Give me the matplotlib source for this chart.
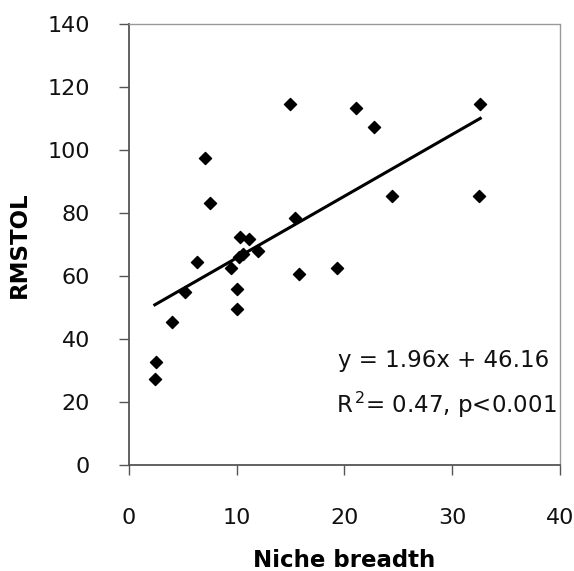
import matplotlib
matplotlib.use("Agg")
import matplotlib.pyplot as plt
import numpy as np

# -----------------------------
# Data
# -----------------------------
niche_breadth = [14.9, 7.1, 7.5, 10.3, 11.1, 12.0, 10.2, 10.6, 6.3, 9.5,
                 15.4, 15.8, 5.2, 10.0, 10.0, 4.0, 2.5, 2.4, 21.1, 22.7,
                 32.6, 24.4, 32.5, 19.3]
rmstol = [114.5, 97.6, 83.1, 72.5, 71.7, 67.9, 66.0, 67.0, 64.5, 62.4,
          78.3, 60.6, 54.9, 55.9, 49.5, 45.3, 32.8, 27.4, 113.2, 107.4,
          114.5, 85.5, 85.5, 62.4]

SLOPE = 1.96
INTERCEPT = 46.16
X_TICKS = [0, 10, 20, 30, 40]
Y_TICKS = [0, 20, 40, 60, 80, 100, 120, 140]

plt.rcParams["font.family"] = ["DejaVu Sans"]
plt.rcParams["mathtext.default"] = "regular"

fig = plt.figure(figsize=(5.74, 5.71), dpi=100)
ax = fig.add_axes([0.2247, 0.1856, 0.7509, 0.7723])

ax.scatter(niche_breadth, rmstol, marker="D", s=38, color="black", zorder=3)

# trendline over the data range
xs = np.array([min(niche_breadth), max(niche_breadth)])
ax.plot(xs, SLOPE * xs + INTERCEPT, color="black", lw=2.2, zorder=2)

ax.set_xlim(0, 40)
ax.set_ylim(0, 140)
ax.set_xticks(X_TICKS)
ax.set_yticks(Y_TICKS)

ax.tick_params(axis="both", direction="out", length=7, width=1,
               color="#555555", labelsize=16, labelcolor="#111111")
ax.tick_params(axis="y", pad=21)
ax.tick_params(axis="x", pad=24)

for side in ["left", "bottom"]:
    ax.spines[side].set_color("#555555")
    ax.spines[side].set_linewidth(1.3)
for side in ["top", "right"]:
    ax.spines[side].set_color("#999999")
    ax.spines[side].set_linewidth(1.0)
    ax.spines[side].set_linestyle((0, (1, 1)))

ax.set_xlabel("Niche breadth", fontsize=16.5, fontweight="bold", labelpad=15)
ax.set_ylabel("RMSTOL", fontsize=16.5, fontweight="bold", labelpad=12)

ax.text(0.974, 0.238, f"y = {SLOPE}x + {INTERCEPT}", transform=ax.transAxes,
        ha="right", va="center", fontsize=16.5, color="#111111")
ax.text(0.993, 0.136, r"R$^{\,2}$= 0.47, p<0.001", transform=ax.transAxes,
        ha="right", va="center", fontsize=16.5, color="#111111")

fig.savefig("out.png", dpi=100)
